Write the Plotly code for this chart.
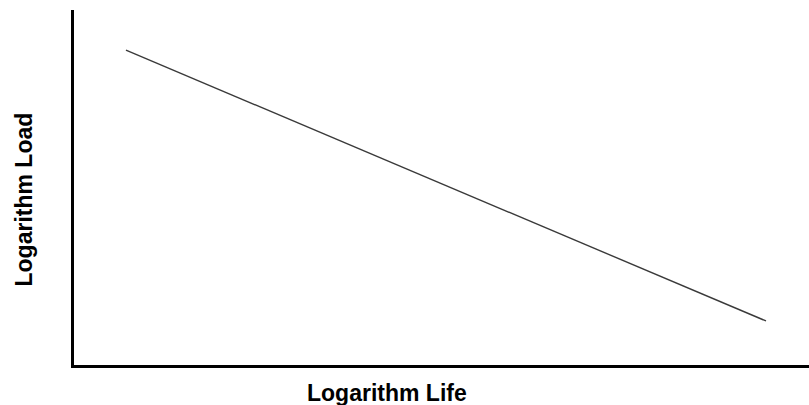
import plotly.graph_objects as go

# S-N style relationship on log-log axes (arbitrary units)
log_life = [0.0707, 0.9415]
log_load = [0.887, 0.124]

L, R, T, B = 74, 0, 10, 40
W, H = 809, 405
PW, PH = W - L - R, H - T - B

fig = go.Figure()
fig.add_trace(go.Scatter(
    x=log_life, y=log_load, mode="lines",
    line=dict(color="#3a3a3a", width=1.4),
    hoverinfo="skip", showlegend=False,
))

axis_common = dict(
    showline=True, linecolor="black", linewidth=3,
    showgrid=False, zeroline=False, showticklabels=False, ticks="",
    range=[0, 1], fixedrange=True,
)
fig.update_xaxes(**axis_common)
fig.update_yaxes(**axis_common)

label_font = dict(family="Liberation Sans, Arial, sans-serif", size=23, color="black")
fig.add_annotation(text="<b>Logarithm Life</b>", xref="paper", yref="paper",
                   x=(387 - L) / PW, y=(H - B - 393) / PH, showarrow=False,
                   font=label_font, xanchor="center", yanchor="middle")
fig.add_annotation(text="<b>Logarithm Load</b>", xref="paper", yref="paper",
                   x=(24 - L) / PW, y=(H - B - 199.5) / PH, showarrow=False, textangle=-90,
                   font=label_font, xanchor="center", yanchor="middle")

fig.update_layout(
    width=W, height=H,
    margin=dict(l=L, r=R, t=T, b=B),
    paper_bgcolor="white", plot_bgcolor="white",
)
fig.write_html("out.html")
